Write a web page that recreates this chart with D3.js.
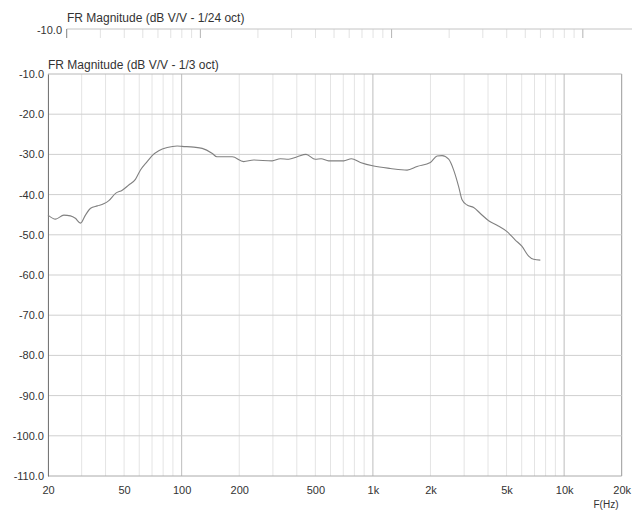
<!DOCTYPE html>
<html>
<head>
<meta charset="utf-8">
<script src="https://cdn.jsdelivr.net/npm/d3@7"></script>
<style>
  body { margin: 0; background: #fff; }
  text { font-family: "Liberation Sans", Arial, sans-serif; fill: #333; }
</style>
</head>
<body>
<div id="chart"></div>
<script>
// measured response, 1/3 oct smoothing
const freq = [20, 21.9, 24.2, 26.2, 27.8, 29.6, 31.4, 33.4, 36.2, 39.1, 41.6, 45.1, 48.9, 52.9, 57.3, 60.9,
    66, 70.1, 75.9, 84, 94.7, 100.6, 115.7, 128, 144, 153, 184, 211, 238, 297, 328, 363, 402, 447, 500,
    536, 587, 704, 772, 860, 1010, 1234, 1509, 1702, 1998, 2166, 2300, 2490, 2645, 2808, 2926, 3108,
    3365, 3647, 4030, 4458, 5028, 5556, 6024, 6522, 6927, 7508];
const magDb = [-45.1, -46.1, -45.1, -45.3, -45.9, -47.1, -45.1, -43.4, -42.8, -42.3, -41.5, -39.7, -38.9,
    -37.6, -36.2, -33.9, -31.8, -30.3, -29.1, -28.3, -27.9, -28.0, -28.2, -28.5, -29.7, -30.6, -30.6,
    -31.8, -31.4, -31.6, -31.1, -31.2, -30.6, -30.0, -31.2, -31.1, -31.6, -31.6, -31.1, -32.0, -32.9,
    -33.5, -33.9, -33.0, -32.0, -30.4, -30.3, -31.2, -33.9, -38.0, -41.3, -42.6, -43.2, -44.7, -46.5,
    -47.6, -49.2, -51.3, -52.9, -55.3, -56.1, -56.3];

const gridFreqs = [20, 30, 40, 50, 60, 70, 80, 90, 100, 200, 300, 400, 500, 600, 700, 800, 900,
    1000, 2000, 3000, 4000, 5000, 6000, 7000, 8000, 9000, 10000, 20000];
const majorFreqs = [100, 1000, 10000];
const labelFreqs = [20, 50, 100, 200, 500, 1000, 2000, 5000, 10000, 20000];
const labelText = ["20", "50", "100", "200", "500", "1k", "2k", "5k", "10k", "20k"];
const dbTicks = [-10, -20, -30, -40, -50, -60, -70, -80, -90, -100, -110];

const width = 632;
const height = 510;
const margin = {top: 74, right: 10, bottom: 34, left: 48};

const svg = d3.select("#chart").append("svg")
    .attr("width", width)
    .attr("height", height);

const x = d3.scaleLog()
    .domain([20, 20000])
    .range([margin.left, 621.7]);

const y = d3.scaleLinear()
    .domain([-10, -110])
    .range([margin.top, height - margin.bottom]);

// second (1/24 oct) window, only its top edge shows
const xTop = d3.scaleLog()
    .domain([20, 20000])
    .range([66.7, 66.7 + (621.7 - margin.left)]);
const topY = 29;

const strip = svg.append("g");
strip.selectAll("line.tk")
    .data(gridFreqs.filter(f => xTop(f) < width))
    .join("line")
    .attr("x1", d => xTop(d)).attr("x2", d => xTop(d))
    .attr("y1", topY).attr("y2", topY + 9)
    .attr("stroke", d => majorFreqs.includes(d) ? "#b4b4b4" : "#e2e2e2")
    .attr("stroke-width", 1);
strip.append("line")
    .attr("x1", xTop(20)).attr("x2", width)
    .attr("y1", topY).attr("y2", topY)
    .attr("stroke", "#c4c4c4");
strip.append("line")
    .attr("x1", xTop(20)).attr("x2", xTop(20))
    .attr("y1", topY).attr("y2", topY + 9)
    .attr("stroke", "#888");
strip.append("text")
    .attr("x", 62).attr("y", topY + 2)
    .attr("text-anchor", "end")
    .attr("dominant-baseline", "middle")
    .style("font-size", "11px")
    .text("-10.0");
strip.append("text")
    .attr("x", 67).attr("y", 22)
    .style("font-size", "12px")
    .text("FR Magnitude (dB V/V - 1/24 oct)");

// vertical grid
svg.append("g")
    .selectAll("line")
    .data(gridFreqs)
    .join("line")
    .attr("x1", d => x(d)).attr("x2", d => x(d))
    .attr("y1", y(-10)).attr("y2", y(-110))
    .attr("stroke", d => majorFreqs.includes(d) ? "#bdbdbd" : (d === 20000 ? "#999" : "#e4e4e4"));

// horizontal grid
svg.append("g")
    .selectAll("line")
    .data(dbTicks)
    .join("line")
    .attr("x1", x(20)).attr("x2", x(20000))
    .attr("y1", d => y(d)).attr("y2", d => y(d))
    .attr("stroke", d => d === -10 ? "#b8b8b8" : (d === -110 ? "#aaa" : "#cfcfcf"));

// left axis
const yAxis = g => g
    .attr("transform", `translate(${x(20)},0)`)
    .call(d3.axisLeft(y).tickValues(dbTicks).tickSize(0).tickPadding(4).tickFormat(d => d.toFixed(1)))
    .call(g => g.select(".domain").attr("stroke", "#777"))
    .call(g => g.selectAll("text").style("font-size", "11px").attr("fill", "#333")
        .style("font-family", '"Liberation Sans", Arial, sans-serif'));
svg.append("g").call(yAxis);

// bottom labels
const xAxis = g => g
    .attr("transform", `translate(0,${y(-110)})`)
    .call(d3.axisBottom(x).tickValues(labelFreqs).tickSize(0).tickPadding(10)
        .tickFormat((d, i) => labelText[i]))
    .call(g => g.select(".domain").remove())
    .call(g => g.selectAll("text").style("font-size", "11px").attr("fill", "#333")
        .style("font-family", '"Liberation Sans", Arial, sans-serif'));
svg.append("g").call(xAxis);

svg.append("text")
    .attr("x", 606).attr("y", 508)
    .attr("text-anchor", "middle")
    .style("font-size", "10px")
    .text("F(Hz)");

svg.append("text")
    .attr("x", margin.left).attr("y", 69)
    .style("font-size", "12px")
    .text("FR Magnitude (dB V/V - 1/3 oct)");

const line = d3.line()
    .x((d, i) => x(freq[i]))
    .y(d => y(d))
    .curve(d3.curveMonotoneX);

svg.append("path")
    .datum(magDb)
    .attr("fill", "none")
    .attr("stroke", "#808080")
    .attr("stroke-width", 1.1)
    .attr("d", line);
</script>
</body>
</html>
